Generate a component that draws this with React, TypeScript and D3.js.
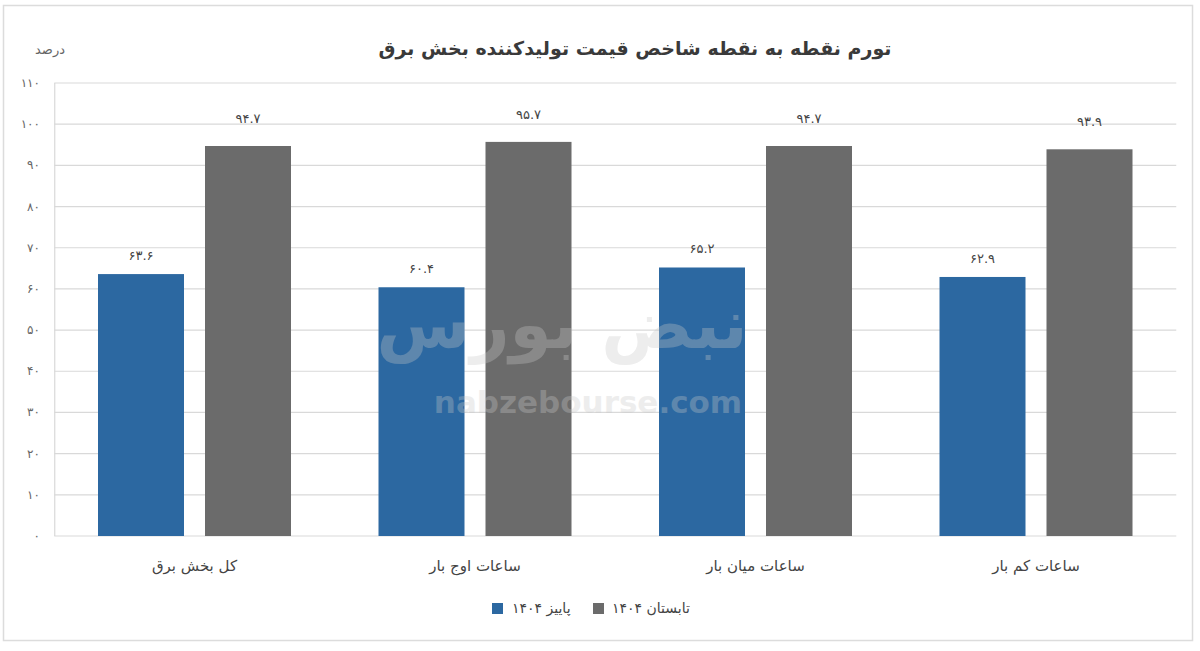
import React from "react";
import * as d3 from "d3";

const categories = ["کل بخش برق", "ساعات اوج بار", "ساعات میان بار", "ساعات کم بار"];
const autumn1404 = [63.6, 60.4, 65.2, 62.9];
const summer1404 = [94.7, 95.7, 94.7, 93.9];
const seriesNames = ["پاییز ۱۴۰۴", "تابستان ۱۴۰۴"];
const yTicks = [0, 10, 20, 30, 40, 50, 60, 70, 80, 90, 100, 110];
const title = "تورم نقطه به نقطه شاخص قیمت تولیدکننده بخش برق";
const yUnit = "درصد";

const toFa = (s: string) => s.replace(/[0-9]/g, (d) => "۰۱۲۳۴۵۶۷۸۹"[+d]);

const W = 1200;
const H = 651;
const FONT = "'DejaVu Sans', sans-serif";
const BLUE = "#2c68a1";
const GRAY = "#6b6b6b";

export default function App() {
  const x0 = 54.25;
  const x1 = 1176.25;
  const y0 = 536;
  const y1 = 83;
  const x = d3.scaleBand<string>().domain(categories).range([x0, x1]).paddingInner(0).paddingOuter(0);
  const y = d3.scaleLinear().domain([0, 110]).range([y0, y1]);
  const barW = 86;
  const gap = 21;
  const series = [
    { name: seriesNames[0], values: autumn1404, color: BLUE, offset: -(gap / 2 + barW), labelOff: 18 },
    { name: seriesNames[1], values: summer1404, color: GRAY, offset: gap / 2, labelOff: 27 },
  ];

  return (
    <svg width={W} height={H} style={{ display: "block", position: "absolute", left: 0, top: 0 }} fontFamily={FONT}>
      <rect x={0} y={0} width={W} height={H} fill="#ffffff" />
      <rect x={3.5} y={5.5} width={1189} height={635} fill="none" stroke="#dcdcdc" strokeWidth={1.5} />

      <text x={635} y={55} textAnchor="middle" fontSize={19} fontWeight="bold" fill="#3a3a3a" direction="rtl">
        {title}
      </text>
      <text x={50} y={54} textAnchor="middle" fontSize={13} fill="#666">
        {yUnit}
      </text>

      {yTicks.map((t) => (
        <g key={t}>
          <line x1={x0} x2={x1} y1={y(t)} y2={y(t)} stroke="#d9d9d9" strokeWidth={1.2} />
          <text x={40} y={y(t) + 4} textAnchor="end" fontSize={12} fill="#666">
            {toFa(String(t))}
          </text>
        </g>
      ))}
      <line x1={x0 + 0.5} x2={x0 + 0.5} y1={y1} y2={y0} stroke="#d9d9d9" strokeWidth={1.2} />

      {series.map((s) =>
        categories.map((c, i) => {
          const cx = (x(c) as number) + x.bandwidth() / 2;
          const bx = cx + s.offset;
          return (
            <g key={s.name + c}>
              <rect x={bx} y={y(s.values[i])} width={barW} height={y(0) - y(s.values[i])} fill={s.color} />
              <text
                x={bx + barW / 2}
                y={y(s.values[i]) - s.labelOff + 4}
                textAnchor="middle"
                fontSize={13}
                fill="#444"
              >
                {toFa(s.values[i].toFixed(1))}
              </text>
            </g>
          );
        })
      )}

      {/* watermark */}
      <g opacity={0.32} fill="#c8c8c8">
        <text x={562} y={348} textAnchor="middle" fontSize={68} fontWeight="bold" direction="rtl">
          نبض بورس
        </text>
        <text x={588} y={413} textAnchor="middle" fontSize={31} fontWeight="bold">
          nabzebourse.com
        </text>
      </g>

      {categories.map((c) => (
        <text
          key={c}
          x={(x(c) as number) + x.bandwidth() / 2}
          y={571}
          textAnchor="middle"
          fontSize={15}
          fill="#444"
          direction="rtl"
        >
          {c}
        </text>
      ))}

      <g>
        <rect x={492} y={603} width={11} height={11} fill={BLUE} />
        <text x={512} y={613} fontSize={14} fill="#444" textAnchor="start">
          {seriesNames[0]}
        </text>
        <rect x={593} y={603} width={11} height={11} fill={GRAY} />
        <text x={612} y={613} fontSize={14} fill="#444" textAnchor="start">
          {seriesNames[1]}
        </text>
      </g>
    </svg>
  );
}
